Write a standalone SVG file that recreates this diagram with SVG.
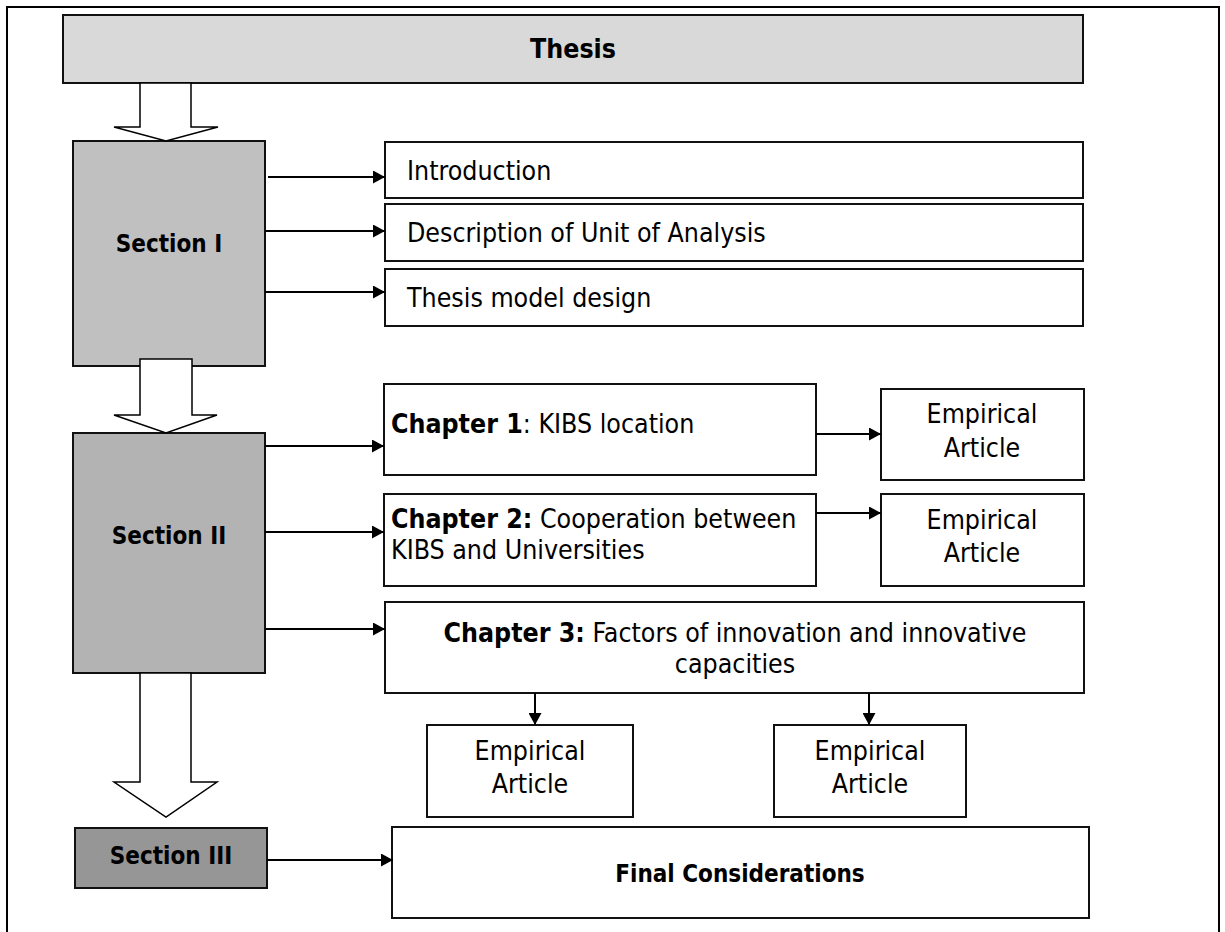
<svg xmlns="http://www.w3.org/2000/svg" width="1225" height="932" viewBox="0 0 1225 932">
<style>
  .box{fill:#fff;stroke:#111;stroke-width:2}
  .t{font-family:"DejaVu Sans Condensed","DejaVu Sans",sans-serif;font-stretch:condensed;font-size:26.5px;fill:#000}
  .b{font-weight:bold}
  .s{font-size:24px;font-weight:bold}
  .c{text-anchor:middle}
  .con{stroke:#000;stroke-width:2;fill:none;marker-end:url(#ah)}
  .hollow{fill:#fff;stroke:#000;stroke-width:1.5;stroke-linejoin:miter}
</style>
<defs>
  <marker id="ah" markerUnits="userSpaceOnUse" markerWidth="13" markerHeight="13" refX="12" refY="6.5" orient="auto">
    <path d="M0,0 L12,6.5 L0,13 z" fill="#000"/>
  </marker>
</defs>
<rect x="0" y="0" width="1225" height="932" fill="#fff"/>
<rect id="frame" x="7" y="7" width="1212" height="940" fill="none" stroke="#000" stroke-width="2"/>

<g id="thesis"><rect class="box" x="63" y="15" width="1020" height="68" fill="#d9d9d9" style="fill:#d9d9d9"/><text class="t b c" x="573" y="58">Thesis</text></g>

<g id="section1"><rect class="box" x="73" y="141" width="192" height="225" style="fill:#c0c0c0"/><text class="t s c" x="169" y="252">Section I</text></g>
<g id="section2"><rect class="box" x="73" y="433" width="192" height="240" style="fill:#b3b3b3"/><text class="t s c" x="169" y="544">Section II</text></g>
<g id="section3"><rect class="box" x="75" y="828" width="192" height="60" style="fill:#969696"/><text class="t s c" x="171" y="864">Section III</text></g>

<g id="hollow-arrows">
  <polygon class="hollow" points="140,83 191,83 191,127 218,127 166,141 114,127 140,127"/>
  <polygon class="hollow" points="140,359 192,359 192,415 217,415 166,433 114,415 140,415"/>
  <polygon class="hollow" points="140,673 191,673 191,782 217,782 166,817 114,782 140,782"/>
</g>

<g id="intro"><rect class="box" x="385" y="142" width="698" height="56"/><text class="t" x="407" y="180">Introduction</text></g>
<g id="desc"><rect class="box" x="385" y="204" width="698" height="57"/><text class="t" x="407" y="242">Description of Unit of Analysis</text></g>
<g id="tmd"><rect class="box" x="385" y="269" width="698" height="57"/><text class="t" x="407" y="307">Thesis model design</text></g>

<g id="ch1"><rect class="box" x="384" y="384" width="432" height="91"/><text class="t" x="391" y="433"><tspan class="b">Chapter 1</tspan>: KIBS location</text></g>
<g id="ch2"><rect class="box" x="384" y="494" width="432" height="92"/><text class="t" x="391" y="528"><tspan class="b">Chapter 2:</tspan> Cooperation between</text><text class="t" x="391" y="559">KIBS and Universities</text></g>
<g id="emp1"><rect class="box" x="881" y="389" width="203" height="91"/><text class="t c" x="982" y="423">Empirical</text><text class="t c" x="982" y="457">Article</text></g>
<g id="emp2"><rect class="box" x="881" y="494" width="203" height="92"/><text class="t c" x="982" y="529">Empirical</text><text class="t c" x="982" y="562">Article</text></g>

<g id="ch3"><rect class="box" x="385" y="602" width="699" height="91"/><text class="t c" x="735" y="642"><tspan class="b">Chapter 3:</tspan> Factors of innovation and innovative</text><text class="t c" x="735" y="673">capacities</text></g>
<g id="emp3"><rect class="box" x="427" y="725" width="206" height="92"/><text class="t c" x="530" y="760">Empirical</text><text class="t c" x="530" y="793">Article</text></g>
<g id="emp4"><rect class="box" x="774" y="725" width="192" height="92"/><text class="t c" x="870" y="760">Empirical</text><text class="t c" x="870" y="793">Article</text></g>

<g id="final"><rect class="box" x="392" y="827" width="697" height="91"/><text class="t c" x="740" y="882" style="font-weight:bold;font-size:24px">Final Considerations</text></g>

<g id="connectors">
  <line class="con" x1="268" y1="177" x2="385" y2="177"/>
  <line class="con" x1="265" y1="231" x2="385" y2="231"/>
  <line class="con" x1="265" y1="292" x2="385" y2="292"/>
  <line class="con" x1="265" y1="446" x2="384" y2="446"/>
  <line class="con" x1="265" y1="532" x2="384" y2="532"/>
  <line class="con" x1="265" y1="629" x2="385" y2="629"/>
  <line class="con" x1="816" y1="434" x2="881" y2="434"/>
  <line class="con" x1="816" y1="513" x2="881" y2="513"/>
  <line class="con" x1="535" y1="693" x2="535" y2="725"/>
  <line class="con" x1="869" y1="693" x2="869" y2="725"/>
  <line class="con" x1="267" y1="860" x2="393" y2="860"/>
</g>
</svg>
